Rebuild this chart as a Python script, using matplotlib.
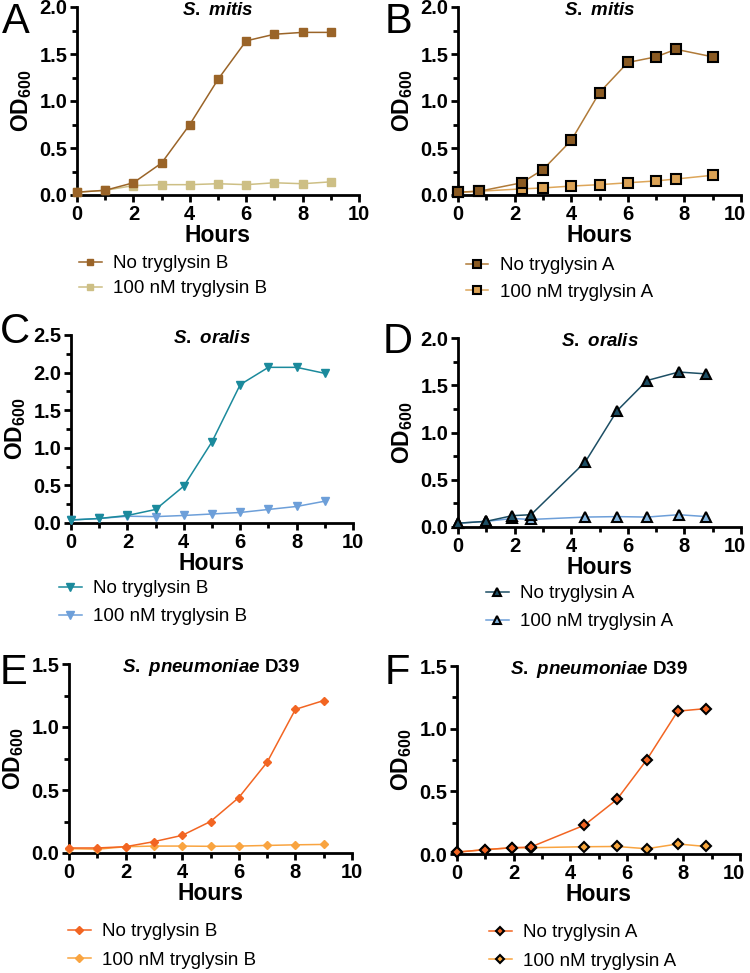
import numpy as np
import matplotlib
matplotlib.use('Agg')
import matplotlib.pyplot as plt
from matplotlib.ticker import MultipleLocator
from matplotlib.transforms import ScaledTranslation

plt.rcParams['font.family'] = ['Liberation Sans', 'DejaVu Sans']
plt.rcParams['mathtext.fontset'] = 'custom'
plt.rcParams['mathtext.rm'] = 'Liberation Sans:bold'
plt.rcParams['mathtext.it'] = 'Liberation Sans:italic:bold'
plt.rcParams['mathtext.bf'] = 'Liberation Sans:bold'
plt.rcParams['mathtext.default'] = 'rm'

# ---- data ----
# A: S. mitis, tryglysin B
a_hours = [0, 1, 2, 3, 4, 5, 6, 7, 8, 9]
a_none = [0.03, 0.05, 0.13, 0.34, 0.75, 1.23, 1.64, 1.71, 1.73, 1.73]
a_100 = [0.03, 0.05, 0.10, 0.11, 0.11, 0.12, 0.11, 0.13, 0.12, 0.14]

# B: S. mitis, tryglysin A
b_hours = [0, 0.75, 2.25, 3, 4, 5, 6, 7, 7.7, 9]
b_none = [0.03, 0.04, 0.13, 0.27, 0.58, 1.09, 1.41, 1.47, 1.55, 1.47]
b_100 = [0.03, 0.04, 0.065, 0.075, 0.095, 0.11, 0.13, 0.15, 0.17, 0.21]

# C: S. oralis, tryglysin B
c_hours = [0, 1, 2, 3, 4, 5, 6, 7, 8, 9]
c_none = [0.04, 0.06, 0.10, 0.18, 0.49, 1.08, 1.84, 2.07, 2.07, 1.99]
c_100 = [0.04, 0.06, 0.09, 0.085, 0.10, 0.12, 0.14, 0.18, 0.22, 0.29]

# D: S. oralis, tryglysin A
d_hours = [0, 1, 1.92, 2.58, 4.5, 5.62, 6.68, 7.8, 8.78]
d_none = [0.04, 0.06, 0.12, 0.13, 0.69, 1.23, 1.55, 1.64, 1.62]
d_100 = [0.04, 0.06, 0.09, 0.08, 0.105, 0.11, 0.105, 0.13, 0.11]

# E: S. pneumoniae D39, tryglysin B
e_hours = [0, 1, 2, 3, 4, 5, 6, 7, 8, 9]
e_none = [0.04, 0.04, 0.05, 0.09, 0.14, 0.25, 0.44, 0.72, 1.14, 1.21]
e_100 = [0.035, 0.03, 0.05, 0.055, 0.055, 0.053, 0.055, 0.06, 0.065, 0.068]

# F: S. pneumoniae D39, tryglysin A
f_hours = [0, 1, 1.95, 2.6, 4.5, 5.65, 6.7, 7.8, 8.8]
f_none = [0.015, 0.035, 0.05, 0.055, 0.23, 0.435, 0.75, 1.14, 1.16]
f_100 = [0.015, 0.035, 0.05, 0.05, 0.058, 0.06, 0.042, 0.08, 0.06]

W, H = 750, 973
fig = plt.figure(figsize=(W / 100, H / 100), dpi=100)


def make_axes(x0, y0, x1, y1):
    # pixel box -> figure fraction
    return fig.add_axes([x0 / W, 1 - y1 / H, (x1 - x0) / W, (y1 - y0) / H])


def style_axes(ax, ymax, ystep, title, squeeze_last):
    ax.set_xlim(0, 10)
    ax.set_ylim(0, ymax)
    ax.xaxis.set_major_locator(MultipleLocator(2))
    ax.xaxis.set_minor_locator(MultipleLocator(1))
    ax.yaxis.set_major_locator(MultipleLocator(ystep))
    ax.yaxis.set_minor_locator(MultipleLocator(ystep / 2))
    ax.yaxis.set_major_formatter(matplotlib.ticker.FormatStrFormatter('%.1f'))
    for s in ['top', 'right']:
        ax.spines[s].set_visible(False)
    for s in ['left', 'bottom']:
        ax.spines[s].set_linewidth(2.0)
    ax.tick_params(which='major', length=5, width=2.0, direction='out', labelsize=14.5, pad=2)
    ax.tick_params(which='minor', length=3.5, width=2.0, direction='out')
    for lab in ax.get_xticklabels() + ax.get_yticklabels():
        lab.set_fontweight('bold')
    if squeeze_last:
        # right-hand panels: keep the "10" inside the figure
        for t in ax.xaxis.get_major_ticks():
            if abs(t.get_loc() - 10) < 1e-9:
                t.label1.set_horizontalalignment('right')
                t.label1.set_transform(t.label1.get_transform()
                                       + ScaledTranslation(5 / 100, 0, fig.dpi_scale_trans))
    ax.set_xlabel('Hours', fontsize=16.5, fontweight='bold', labelpad=0)
    ax.set_ylabel('OD$_{600}$', fontsize=16.5, fontweight='bold', labelpad=4)
    ax.text(0.5, 0.98, title, transform=ax.transAxes, ha='center', va='center',
            fontsize=13.5, fontweight='bold')


def add_legend(ax, handles, labels, x_px, y_px, spacing):
    ax.legend(handles, labels, loc='upper left',
              bbox_to_anchor=(x_px / W, 1 - y_px / H), bbox_transform=fig.transFigure,
              frameon=False, fontsize=13.5, handlelength=1.2, handletextpad=0.6,
              borderaxespad=0, borderpad=0, labelspacing=spacing, markerscale=0.85)


panels = [
    dict(box=(77, 7, 359, 195), x=a_hours, y1=a_none, y2=a_100, m='s',
         c1='#9a6428', c2='#cdbf85', f1='#9a6428', f2='#cdbf85', edge=None, ms=5.5,
         ymax=2.0, ystep=0.5, title='$\\mathit{S.\\ mitis}$', letter='A', lpos=(2, 2),
         leg=(79, 255), sp=0.42, drug='B', right=False),
    dict(box=(458, 7, 741, 195), x=b_hours, y1=b_none, y2=b_100, m='s',
         c1='#b07a38', c2='#dda65a', f1='#8a5a22', f2='#dba255', edge='black', ms=6.5,
         ymax=2.0, ystep=0.5, title='$\\mathit{S.\\ mitis}$', letter='B', lpos=(385, 2),
         leg=(466, 257), sp=0.5, drug='A', right=True),
    dict(box=(71, 335, 353, 523), x=c_hours, y1=c_none, y2=c_100, m='v',
         c1='#1b8a9c', c2='#6d9fd9', f1='#1b8a9c', f2='#6d9fd9', edge=None, ms=6,
         ymax=2.5, ystep=0.5, title='$\\mathit{S.\\ oralis}$', letter='C', lpos=(0, 312),
         leg=(59, 580), sp=0.58, drug='B', right=False),
    dict(box=(458, 338, 741, 527), x=d_hours, y1=d_none, y2=d_100, m='^',
         c1='#1c4e64', c2='#6d9fd9', f1='#1c4e64', f2='#86b8e2', edge='black', ms=6.5,
         ymax=2.0, ystep=0.5, title='$\\mathit{S.\\ oralis}$', letter='D', lpos=(383, 322),
         leg=(486, 585), sp=0.58, drug='A', right=True),
    dict(box=(69, 664, 352, 853), x=e_hours, y1=e_none, y2=e_100, m='D',
         c1='#f26522', c2='#f9a440', f1='#f26522', f2='#f9a440', edge=None, ms=4.5,
         ymax=1.5, ystep=0.5, title='$\\mathit{S.\\ pneumoniae}$ D39', letter='E', lpos=(0, 653),
         leg=(68, 923), sp=0.62, drug='B', right=False),
    dict(box=(457, 666, 740, 854), x=f_hours, y1=f_none, y2=f_100, m='D',
         c1='#f26522', c2='#f9a440', f1='#f26522', f2='#f7a63c', edge='black', ms=5,
         ymax=1.5, ystep=0.5, title='$\\mathit{S.\\ pneumoniae}$ D39', letter='F', lpos=(385, 653),
         leg=(489, 924), sp=0.62, drug='A', right=True),
]

for p in panels:
    ax = make_axes(*p['box'])
    kw = dict(marker=p['m'], ms=p['ms'], lw=1.1, clip_on=False, zorder=3)
    if p['edge']:
        kw['mew'] = 1.5
    h2, = ax.plot(p['x'], p['y2'], color=p['c2'], mfc=p['f2'],
                  mec=p['edge'] or p['f2'], **kw)
    h1, = ax.plot(p['x'], p['y1'], color=p['c1'], mfc=p['f1'],
                  mec=p['edge'] or p['f1'], **kw)
    style_axes(ax, p['ymax'], p['ystep'], p['title'], p['right'])
    add_legend(ax, [h1, h2], ['No tryglysin ' + p['drug'], '100 nM tryglysin ' + p['drug']],
               p['leg'][0], p['leg'][1], p['sp'])
    fig.text(p['lpos'][0] / W, 1 - p['lpos'][1] / H, p['letter'], fontsize=30,
             ha='left', va='top')

fig.savefig('out.png', dpi=100)
